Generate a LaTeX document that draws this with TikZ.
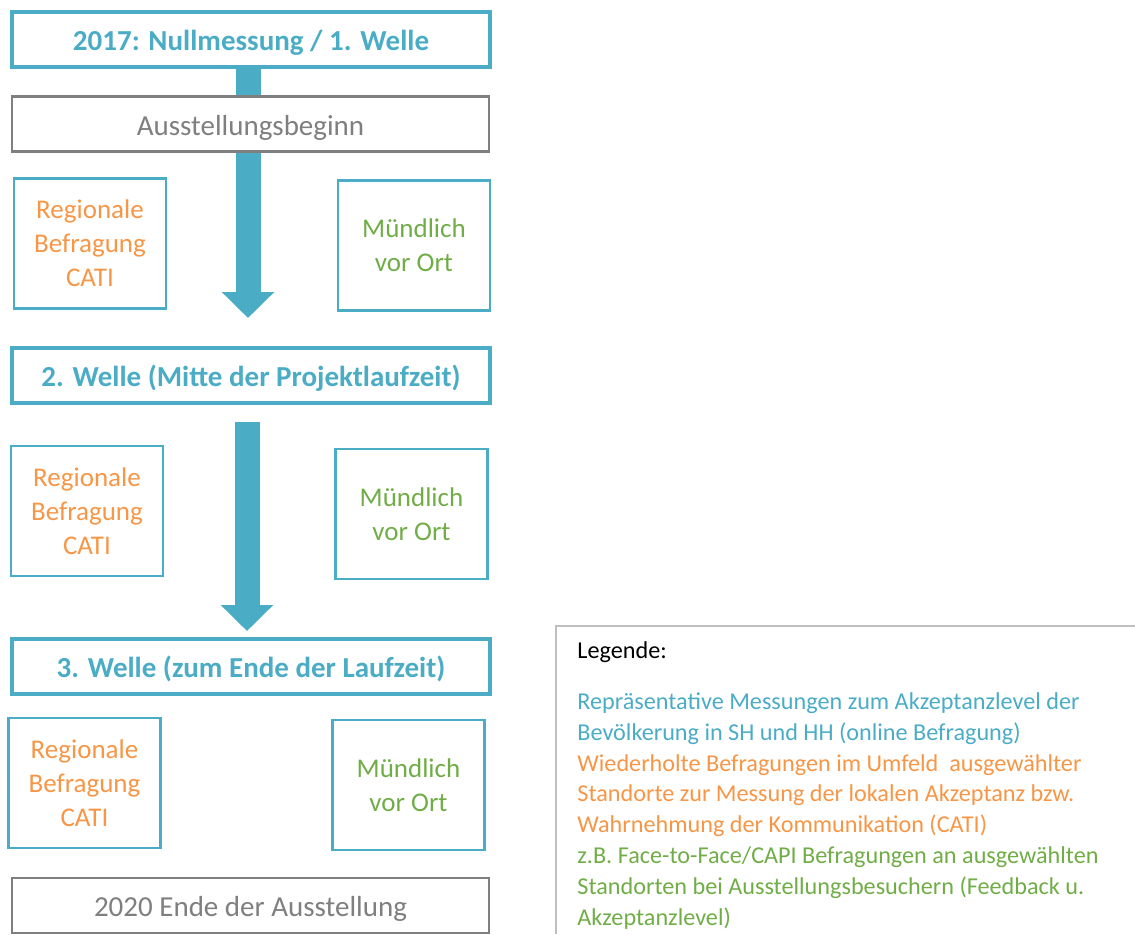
\documentclass[tikz,border=0pt]{standalone}
\usepackage{fontspec}
\setmainfont{Carlito}
\usetikzlibrary{positioning}
\usetikzlibrary{arrows.meta}
\usetikzlibrary{backgrounds}

\definecolor{wavecol}{HTML}{4BACC6}
\definecolor{catiorange}{HTML}{F79646}
\definecolor{vorortgreen}{HTML}{70AD47}
\definecolor{greytext}{HTML}{7F7F7F}
\definecolor{legendline}{HTML}{BFBFBF}

\begin{document}
\begin{tikzpicture}
		[x=0.5pt, y=-0.5pt,
		wave/.style={draw=wavecol, line width=1.6pt, fill=white, minimum width=239pt, minimum height=27.5pt, text height=12pt, text depth=1pt, text=wavecol, font=\fontsize{14.5}{17}\selectfont\bfseries},
		phase/.style={draw=greytext, line width=1.2pt, fill=white, minimum width=238.5pt, minimum height=27.5pt, text height=12pt, text depth=1pt, text=greytext, font=\fontsize{14.5}{17}\selectfont},
		method/.style={draw=wavecol, line width=1.1pt, minimum width=76pt, minimum height=65pt, align=center, font=\fontsize{13.5}{17}\selectfont},
		cati/.style={method, text=catiorange},
		vorort/.style={method, text=vorortgreen},
		bigarrow/.style={wavecol, line width=12.5pt, -{Triangle[length=13pt, width=25.5pt]}}]
		\useasboundingbox (0,0) rectangle (1135,934);

		\node[wave] (w1) at (251,39.5) {2017: Nullmessung / 1. Welle};
		\node[phase] (start) at (250.5,124) {Ausstellungsbeginn};
		\node[cati] (r1) at (90,243.5) {Regionale\\Befragung\\CATI};
		\node[vorort] (m1) at (414,245.5) {Mündlich\\vor Ort};

		\node[wave] (w2) at (251,375.5) {2. Welle (Mitte der Projektlaufzeit)};
		\node[cati] (r2) at (87,511) {Regionale\\Befragung\\CATI};
		\node[vorort] (m2) at (411.5,514) {Mündlich\\vor Ort};

		\node[wave] (w3) at (251,666.5) {3. Welle (zum Ende der Laufzeit)};
		\node[cati] (r3) at (84.5,783) {Regionale\\Befragung\\CATI};
		\node[vorort] (m3) at (408.5,785) {Mündlich\\vor Ort};

		\node[phase] (ende) at (250.5,905.5) {2020 Ende der Ausstellung};

		\coordinate (tip1) at (248,318);
		\coordinate (foot2) at (247,422);
		\coordinate (tip2) at (247,631);

		\begin{scope}[on background layer]
			\draw[bigarrow] ([xshift=-1.5pt]w1.south) -- (tip1);
			\draw[bigarrow] (foot2) -- (tip2);
		\end{scope}

		% legend
		\draw[legendline, line width=0.8pt] (556,934) |- (1135,626);
		\node[anchor=north west, align=left, inner sep=0pt, font=\fontsize{12.1}{15.4}\selectfont] (legend) at (577,641.5)
			{Legende:\\[10pt]
			\textcolor{wavecol}{Repräsentative Messungen zum Akzeptanzlevel der}\\
			\textcolor{wavecol}{Bevölkerung in SH und HH (online Befragung)}\\
			\textcolor{catiorange}{Wiederholte Befragungen im Umfeld \ ausgewählter}\\
			\textcolor{catiorange}{Standorte zur Messung der lokalen Akzeptanz bzw.}\\
			\textcolor{catiorange}{Wahrnehmung der Kommunikation (CATI)}\\
			\textcolor{vorortgreen}{z.B. Face-to-Face/CAPI Befragungen an ausgewählten}\\
			\textcolor{vorortgreen}{Standorten bei Ausstellungsbesuchern (Feedback u.}\\
			\textcolor{vorortgreen}{Akzeptanzlevel)}};
	\end{tikzpicture}
\end{document}
